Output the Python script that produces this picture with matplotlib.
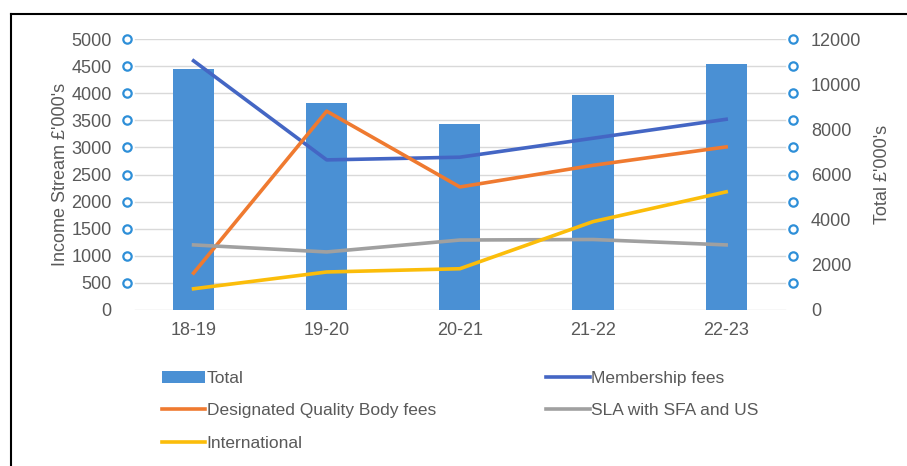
import matplotlib.pyplot as plt
from matplotlib.lines import Line2D
import numpy as np

plt.rcParams['font.family'] = ['Liberation Sans', 'DejaVu Sans']

# Data
years = ['18-19', '19-20', '20-21', '21-22', '22-23']
total = [10680, 9190, 8220, 9540, 10900]
membership = [4600, 2770, 2820, 3170, 3520]
dqb = [680, 3670, 2270, 2670, 3010]
sla = [1200, 1070, 1290, 1300, 1200]
international = [390, 700, 760, 1630, 2180]

grey = '#595959'
x = np.arange(len(years))

fig = plt.figure(figsize=(9.07, 4.66), dpi=100)
ax = fig.add_axes([0.140, 0.335, 0.734, 0.581])
ax2 = ax.twinx()

# bars on the secondary axis, behind the lines
ax2.set_zorder(0)
ax.set_zorder(1)
ax.patch.set_visible(False)

bars = ax2.bar(x, total, width=0.31, color='#4a90d4', label='Total')
ax2.set_ylim(0, 12000)
ax2.set_yticks(range(0, 12001, 2000))

l1, = ax.plot(x, membership, color='#4466c4', lw=2.6, label='Membership fees')
l2, = ax.plot(x, dqb, color='#ef7a30', lw=2.6, label='Designated Quality Body fees')
l3, = ax.plot(x, sla, color='#a0a0a0', lw=2.6, label='SLA with SFA and US')
l4, = ax.plot(x, international, color='#fbbd0a', lw=2.6, label='International')

ax.set_xlim(-0.5, 4.5)
ax.set_ylim(0, 5000)
ax.set_yticks(range(0, 5001, 500))
ax.set_xticks(x)
ax.set_xticklabels(years)

# gridlines drawn on the bar axis so they sit behind the bars
for v in range(500, 5001, 500):
    ax2.plot([-0.44, 4.44], [v * 12000 / 5000] * 2, color='#d9d9d9', lw=1, zorder=0)
ax2.plot([-0.44, 4.44], [0, 0], color='#d9d9d9', lw=1, zorder=0)
ax2.set_xlim(-0.5, 4.5)

# selection handles along both value axes
hy = list(range(500, 5001, 500))
ax.plot([-0.5] * len(hy), hy, 'o', ms=6, mfc='white', mec='#2e8fd8', mew=1.6, clip_on=False)
ax.plot([4.5] * len(hy), hy, 'o', ms=6, mfc='white', mec='#2e8fd8', mew=1.6, clip_on=False)

for a in (ax, ax2):
    for s in a.spines.values():
        s.set_visible(False)
    a.tick_params(length=0, colors=grey, labelsize=13)

ax.tick_params(axis='y', pad=11)
ax2.tick_params(axis='y', pad=13)
ax.tick_params(axis='x', pad=9)

ax.set_ylabel("Income Stream £'000's", color=grey, fontsize=13, labelpad=2)
ax2.set_ylabel("Total £'000's", color=grey, fontsize=13, labelpad=9)

handles = [bars, l2, l4, l1, l3]
labels = [h.get_label() for h in handles]
fig.legend(handles, labels, ncol=2, loc='upper left', bbox_to_anchor=(0.161, 0.238),
           frameon=False, fontsize=12.5, labelcolor=grey, handlelength=2.5,
           handletextpad=0.1, columnspacing=6.35, labelspacing=1.0)

# frame lines (top and left) around the picture
fig.add_artist(Line2D([11 / 907, 1], [1 - 14 / 466] * 2, color='black', lw=1.5))
fig.add_artist(Line2D([11 / 907] * 2, [0, 1 - 14 / 466], color='black', lw=1.5))

fig.savefig('out.png', dpi=100)
